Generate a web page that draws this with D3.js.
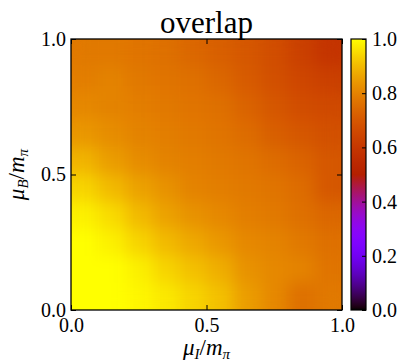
<!DOCTYPE html>
<html>
<head>
<meta charset="utf-8">
<script src="https://cdn.jsdelivr.net/npm/d3@7"></script>
<style>
  body { margin: 0; background: #fff; }
  svg, svg text { font-family: "Liberation Serif", serif; }
</style>
</head>
<body>
<div id="chart"></div>
<script>
// grid centres (mu_I across, mu_B down from the top)
const muI = [0.05, 0.15, 0.25, 0.35, 0.45, 0.55, 0.65, 0.75, 0.85, 0.95];
const muB = [0.95, 0.85, 0.75, 0.65, 0.55, 0.45, 0.35, 0.25, 0.15, 0.05];
const cellSize = 0.1;

// overlap values, one row per muB (top row first)
const overlapRows = [
  [0.78, 0.78, 0.77, 0.76, 0.74, 0.72, 0.70, 0.67, 0.63, 0.59],
  [0.79, 0.80, 0.78, 0.77, 0.76, 0.74, 0.71, 0.68, 0.65, 0.63],
  [0.81, 0.80, 0.79, 0.78, 0.77, 0.76, 0.73, 0.70, 0.67, 0.66],
  [0.84, 0.82, 0.80, 0.79, 0.78, 0.77, 0.75, 0.72, 0.70, 0.68],
  [0.89, 0.85, 0.82, 0.80, 0.79, 0.78, 0.77, 0.75, 0.73, 0.70],
  [0.94, 0.90, 0.86, 0.83, 0.80, 0.79, 0.78, 0.77, 0.75, 0.70],
  [0.98, 0.95, 0.90, 0.86, 0.83, 0.81, 0.79, 0.78, 0.76, 0.74],
  [1.00, 0.98, 0.94, 0.90, 0.87, 0.84, 0.81, 0.80, 0.78, 0.76],
  [1.00, 1.00, 0.98, 0.94, 0.91, 0.88, 0.83, 0.81, 0.80, 0.77],
  [1.00, 1.00, 0.99, 0.97, 0.94, 0.91, 0.85, 0.81, 0.76, 0.78]
];

const axisTicks = [0, 0.5, 1];
const cbarTicks = [0, 0.2, 0.4, 0.6, 0.8, 1.0];
const title = 'overlap';

const width = 401, height = 362;
const plot = { left: 71, right: 342, top: 39, bottom: 310 };
const cbar = { left: 351, right: 366 };
const serif = '"Liberation Serif", serif';

// matplotlib "gnuplot" colormap
const gnuplot = t => {
  const r = Math.sqrt(t), g = t * t * t, b = Math.max(0, Math.sin(2 * Math.PI * t));
  return d3.rgb(255 * r, 255 * g, 255 * b).formatHex();
};
const color = d3.scaleSequential(gnuplot).domain([0, 1]);

const x = d3.scaleLinear().domain([0, 1]).range([plot.left, plot.right]);
const y = d3.scaleLinear().domain([0, 1]).range([plot.bottom, plot.top]);

const svg = d3.select('#chart').append('svg')
  .attr('width', width)
  .attr('height', height);

const defs = svg.append('defs');
defs.append('clipPath').attr('id', 'plotClip')
  .append('rect')
  .attr('x', plot.left).attr('y', plot.top)
  .attr('width', plot.right - plot.left).attr('height', plot.bottom - plot.top);

// soften the cells like a bilinear imshow, keep edges opaque
const filter = defs.append('filter').attr('id', 'smooth')
  .attr('filterUnits', 'userSpaceOnUse')
  .attr('x', plot.left).attr('y', plot.top)
  .attr('width', plot.right - plot.left).attr('height', plot.bottom - plot.top)
  .attr('color-interpolation-filters', 'sRGB');
filter.append('feGaussianBlur').attr('stdDeviation', 8);
filter.append('feComponentTransfer')
  .append('feFuncA').attr('type', 'table').attr('tableValues', '1 1');

const cells = [];
overlapRows.forEach((row, i) => row.forEach((v, j) => cells.push({ mi: muI[j], mb: muB[i], v })));

svg.append('g').attr('clip-path', 'url(#plotClip)')
  .append('g').attr('filter', 'url(#smooth)')
  .selectAll('rect')
  .data(cells)
  .enter()
  .append('rect')
  .attr('x', d => x(d.mi - cellSize / 2))
  .attr('y', d => y(d.mb + cellSize / 2))
  .attr('width', x(cellSize) - x(0) + 0.5)
  .attr('height', y(0) - y(cellSize) + 0.5)
  .attr('fill', d => color(d.v));

// axes with inward ticks
const fmt = d3.format('.1f');
const styleAxis = g => {
  g.attr('font-family', null).style('font-family', serif);
  g.select('.domain').remove();
  g.selectAll('line').attr('stroke', '#000').attr('stroke-width', 1);
  g.selectAll('text').attr('fill', '#000').style('font-size', '20px').style('font-family', serif);
};

svg.append('g')
  .attr('transform', 'translate(0,' + plot.bottom + ')')
  .call(d3.axisBottom(x).tickValues(axisTicks).tickFormat(fmt).tickSizeInner(-5).tickSizeOuter(0).tickPadding(3))
  .call(styleAxis)
  .selectAll('text').attr('dy', '0.95em');

svg.append('g')
  .attr('transform', 'translate(0,' + plot.top + ')')
  .call(d3.axisTop(x).tickValues(axisTicks).tickFormat('').tickSizeInner(-5).tickSizeOuter(0))
  .call(styleAxis);

svg.append('g')
  .attr('transform', 'translate(' + plot.left + ',0)')
  .call(d3.axisLeft(y).tickValues(axisTicks).tickFormat(fmt).tickSizeInner(-5).tickSizeOuter(0).tickPadding(5))
  .call(styleAxis);

svg.append('g')
  .attr('transform', 'translate(' + plot.right + ',0)')
  .call(d3.axisRight(y).tickValues(axisTicks).tickFormat('').tickSizeInner(-5).tickSizeOuter(0))
  .call(styleAxis);

svg.append('rect')
  .attr('x', plot.left).attr('y', plot.top)
  .attr('width', plot.right - plot.left).attr('height', plot.bottom - plot.top)
  .attr('fill', 'none').attr('stroke', '#000').attr('stroke-width', 1.3);

// colorbar
const cy = d3.scaleLinear().domain([0, 1]).range([plot.bottom, plot.top]);
const grad = defs.append('linearGradient').attr('id', 'cgrad')
  .attr('x1', 0).attr('y1', 1).attr('x2', 0).attr('y2', 0);
grad.selectAll('stop')
  .data(d3.range(0, 1.0001, 0.01))
  .enter().append('stop')
  .attr('offset', d => d)
  .attr('stop-color', d => color(d));

svg.append('rect')
  .attr('x', cbar.left).attr('y', cy(1))
  .attr('width', cbar.right - cbar.left).attr('height', cy(0) - cy(1))
  .attr('fill', 'url(#cgrad)')
  .attr('stroke', '#000').attr('stroke-width', 1.2);

svg.append('g')
  .attr('transform', 'translate(' + cbar.right + ',0)')
  .call(d3.axisRight(cy).tickValues(cbarTicks).tickFormat(fmt).tickSizeInner(-4).tickSizeOuter(0).tickPadding(6))
  .call(styleAxis);

// title
svg.append('text')
  .attr('x', (plot.left + plot.right) / 2)
  .attr('y', 33)
  .attr('text-anchor', 'middle')
  .style('font-size', '31px')
  .text(title);

// axis labels
const mathLabel = (sel, sub1) => {
  sel.append('tspan').attr('font-style', 'italic').text('μ');
  sel.append('tspan').attr('font-style', 'italic').style('font-size', '15px').attr('dy', 4).text(sub1);
  sel.append('tspan').attr('dy', -4).text('/');
  sel.append('tspan').attr('font-style', 'italic').text('m');
  sel.append('tspan').attr('font-style', 'italic').style('font-size', '15px').attr('dy', 4).text('π');
};

svg.append('text')
  .attr('x', (plot.left + plot.right) / 2)
  .attr('y', 355)
  .attr('text-anchor', 'middle')
  .style('font-size', '23px')
  .call(mathLabel, 'I');

svg.append('text')
  .attr('transform', 'translate(24,' + (plot.top + plot.bottom) / 2 + ') rotate(-90)')
  .attr('text-anchor', 'middle')
  .style('font-size', '23px')
  .call(mathLabel, 'B');
</script>
</body>
</html>
